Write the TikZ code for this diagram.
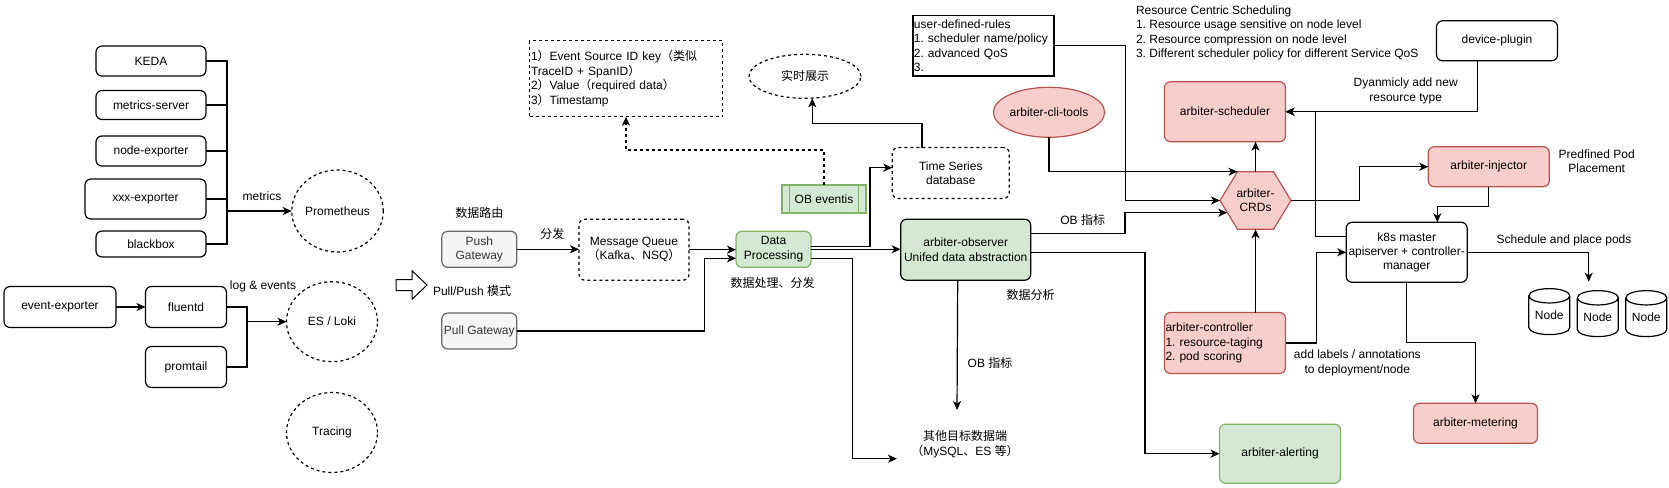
\documentclass[tikz,border=0pt]{standalone}
\usepackage{fontspec}
\setmainfont{Liberation Sans}
\newfontfamily\cjk{Noto Sans CJK SC}
\usepackage{tikz}
\usetikzlibrary{calc,arrows.meta,shapes.geometric}
\frenchspacing

\definecolor{greenfill}{HTML}{D5E8D4}
\definecolor{greenline}{HTML}{82B366}
\definecolor{redfill}{HTML}{F8CECC}
\definecolor{redline}{HTML}{B85450}
\definecolor{grayfill}{HTML}{F5F5F5}
\definecolor{grayline}{HTML}{666666}
\definecolor{graytext}{HTML}{333333}

\begin{document}
\begin{tikzpicture}[x=1pt, y=-1pt, inner sep=0pt, outer sep=0pt, line width=1.2pt,
    every node/.style={font=\fontsize{12}{14.4}\selectfont, align=center},
    box/.style={draw, rounded corners=6pt},
    graybox/.style={box, fill=grayfill, draw=grayline, text=graytext},
    greenbox/.style={box, fill=greenfill, draw=greenline},
    redbox/.style={box, fill=redfill, draw=redline},
    dotline/.style={dash pattern=on 3pt off 3pt},
    circ/.style={ellipse, draw, dotline},
    arr/.style={-{Stealth[length=9pt,width=8pt,inset=2.5pt]}}]
    \useasboundingbox (0,0) rectangle (1669,487);

    % metrics sources
    \node[box, minimum width=110pt, minimum height=30pt] (keda) at (151,61) {KEDA};
    \node[box, minimum width=110pt, minimum height=29pt] (metrics_srv) at (151,105) {metrics-server};
    \node[box, minimum width=110pt, minimum height=30pt] (node_exp) at (151,151) {node-exporter};
    \node[box, minimum width=121pt, minimum height=40pt] (xxx_exp) at (145.5,199) {xxx-exporter};
    \node[box, minimum width=110pt, minimum height=26pt] (blackbox) at (151,244) {blackbox};
    \node[circ, minimum width=82pt, minimum height=82pt] (prometheus) at (337.5,211) {Prometheus};
    \coordinate (metrics_bus) at (227,211);
    \foreach \src in {keda, metrics_srv, node_exp, xxx_exp, blackbox}
        \draw (\src.east) -| (metrics_bus);
    \draw[arr] (metrics_bus) -- (prometheus.west);
    \node (metrics_cap) at (262,196) {metrics};

    % logs
    \node[box, minimum width=112pt, minimum height=41pt] (event_exp) at (60,307) {event-exporter};
    \node[box, minimum width=81pt, minimum height=41pt] (fluentd) at (186,307) {fluentd};
    \node[box, minimum width=81pt, minimum height=41pt] (promtail) at (186,367) {promtail};
    \node[circ, minimum width=91pt, minimum height=80pt] (es_loki) at (332,321.7) {ES / Loki};
    \node[circ, minimum width=91pt, minimum height=80pt] (tracing) at (332,432.5) {Tracing};
    \coordinate (log_bus) at (247,321.7);
    \draw[arr] (event_exp) -- (fluentd);
    \foreach \src in {fluentd, promtail}
        \draw (\src.east) -| (log_bus);
    \draw[arr] (log_bus) -- (es_loki.west);
    \node (log_cap) at (263,286) {log \& events};

    % pull/push
    \draw[line width=1pt] (396,279.5) -- (412,279.5) -- (412,270.7) -- (427,285)
        -- (412,299.3) -- (412,290.5) -- (396,290.5) -- cycle;
    \node[anchor=west] (mode_cap) at (433,290.7) {Pull/Push {\cjk 模式}};
    \node (route_cap) at (479.3,213.3) {\cjk 数据路由};
    \node[graybox, minimum width=75pt, minimum height=36pt] (push_gw) at (479.3,249.3) {Push\\Gateway};
    \node[graybox, minimum width=75pt, minimum height=36pt] (pull_gw) at (479.3,331) {Pull Gateway};
    \node (dist_cap) at (552.3,234) {\cjk 分发};
    \node[box, dotline, minimum width=110pt, minimum height=61pt] (mq) at (634,249.7)
        {Message Queue\\{\cjk （}Kafka{\cjk 、}NSQ{\cjk ）}};
    \node[greenbox, minimum width=75pt, minimum height=36pt] (data_proc) at (773.5,249.3) {Data\\Processing};
    \node (proc_cap) at (772.7,283.3) {\cjk 数据处理、分发};

    % events
    \node[draw=greenline, fill=greenfill, minimum width=84pt, minimum height=28pt] (ob_eventis) at (824,199) {OB eventis};
    \draw[greenline] ($(ob_eventis.north west)+(7.5,0)$) -- ($(ob_eventis.south west)+(7.5,0)$);
    \draw[greenline] ($(ob_eventis.north east)+(-7.5,0)$) -- ($(ob_eventis.south east)+(-7.5,0)$);
    \node[draw, dotline, minimum width=193pt, minimum height=76pt, text width=190pt, align=left] (info) at (626,78.7)
        {1{\cjk ）}Event Source ID key{\cjk （类似}\\TraceID + SpanID{\cjk ）}\\2{\cjk ）}Value{\cjk （}required data{\cjk ）}\\3{\cjk ）}Timestamp};
    \node[circ, minimum width=112pt, minimum height=44pt] (realtime) at (805,76.3) {\cjk 实时展示};
    \node[box, dotline, minimum width=117pt, minimum height=51pt] (ts_db) at (950.8,173) {Time Series\\database};

    % observer
    \node[box, fill=greenfill, minimum width=130pt, minimum height=61pt] (observer) at (965.7,249.7)
        {arbiter-observer\\Unifed data abstraction};
    \node (analysis_cap) at (1030.7,295) {\cjk 数据分析};
    \node[minimum width=136pt, minimum height=68pt] (other_sink) at (965,444)
        {{\cjk 其他目标数据端}\\{\cjk （}MySQL{\cjk 、}ES {\cjk 等）}};
    \node (ob_cap_low) at (990,362.7) {OB {\cjk 指标}};
    \node (ob_cap_up) at (1082.7,220) {OB {\cjk 指标}};
    \node[greenbox, minimum width=121pt, minimum height=59pt] (alerting) at (1280,453.7) {arbiter-alerting};

    % arbiter
    \node[draw, minimum width=141pt, minimum height=60pt, text width=139pt, align=left] (user_rules) at (983.4,45.9)
        {user-defined-rules\\1. scheduler name/policy\\2. advanced QoS\\3.};
    \node[anchor=west, align=left] (resource_cap) at (1136,32.7)
        {Resource Centric Scheduling\\1. Resource usage sensitive on node level\\2. Resource compression on node level\\3. Different scheduler policy for different Service QoS};
    \node[ellipse, draw=redline, fill=redfill, minimum width=92pt, minimum height=50pt] (cli_tools) at (1049,112.3) {arbiter-cli-tools};
    \node[redbox, minimum width=121pt, minimum height=60pt] (scheduler) at (1225,111.7) {arbiter-scheduler};
    \coordinate (crds_c) at (1255.5,200.5);
    \filldraw[fill=redfill, draw=redline] ($(crds_c)+(-35.5,0)$) -- ++(17.5,-28.8) -- ++(36,0)
        -- ++(17.5,28.8) -- ++(-17.5,28.8) -- ++(-36,0) -- cycle;
    \node[minimum width=71pt, minimum height=57.6pt] (crds) at (crds_c) {arbiter-\\CRDs};
    \node[redbox, minimum width=121pt, minimum height=61pt, text width=119pt, align=left] (controller) at (1225,343)
        {arbiter-controller\\1. resource-taging\\2. pod scoring};
    \node[redbox, minimum width=121pt, minimum height=40pt] (injector) at (1488.8,166.7) {arbiter-injector};
    \node[box, minimum width=121pt, minimum height=40pt] (device_plugin) at (1497,40.8) {device-plugin};
    \node[box, minimum width=121pt, minimum height=60pt] (k8s) at (1406.7,252.3) {k8s master\\apiserver + controller-\\manager};
    \node[redbox, minimum width=124pt, minimum height=40pt] (metering) at (1475.5,423.3) {arbiter-metering};
    \foreach \nx/\ny [count=\i] in {1549.3/315.5, 1597.8/317.5, 1646.3/317.5}
        \node[cylinder, draw, shape border rotate=90, aspect=0.5, minimum width=41pt, minimum height=46pt] (node_\i) at (\nx,\ny) {Node};
    \coordinate (nodes_top) at (1588.7,281.7);
    \node (dyn_cap) at (1405.7,90.8) {Dyanmicly add new\\resource type};
    \node (place_cap) at (1596.7,161.2) {Predfined Pod\\Placement};
    \node (sched_cap) at (1564,240.3) {Schedule and place pods};
    \node (label_cap) at (1357.3,362.8) {add labels / annotations\\to deployment/node};

    % data flow
    \draw[arr] (push_gw.east) -- (push_gw.east -| mq.west);
    \draw[arr] (mq.east) -- (mq.east -| data_proc.west);
    \draw[arr] (pull_gw.east) -- ++(188,0) |- ($(data_proc.west)+(0,9)$);
    \draw[arr] ($(data_proc.east)+(0,-2.6)$) -- ++(59,0) |- ($(ts_db.west)+(0,-5.3)$);
    \draw[arr] (data_proc.east) -- (data_proc.east -| observer.west);
    \draw[arr] ($(data_proc.east)+(0,9)$) -- ++(41.7,0) |- ($(other_sink.west)+(0,14.7)$);
    \draw[arr, dotline] (ob_eventis.north) -- ++(0,-35) -| (info.south);
    \draw[arr] ($(ts_db.north)+(-28.8,0)$) -- ++(0,-24.4) -| ($(realtime.south)+(7.3,0)$);
    \draw[arr] ($(observer.south)+(-8,0)$) -- ($(other_sink.north)+(-8,0)$);
    \draw[arr] ($(observer.east)+(0,-16.4)$) -- ++(94.3,0) |- ($(crds.west)+(7.2,12.2)$);
    \draw[arr] ($(observer.east)+(0,2.6)$) -- ++(114.3,0) |- (alerting.west);

    % control flow
    \draw[arr] (user_rules.east) -- ++(71.7,0) |- (crds.west);
    \draw[arr] (cli_tools.south) |- ($(crds.north west)+(17.5,0)$);
    \draw[arr] (crds.north) -- (crds.north |- scheduler.south);
    \draw[arr] (controller.north -| crds.south) -- (crds.south);
    \draw[arr] (controller.east) -- ++(30.7,0) |- (k8s.west);
    \draw[arr] ($(k8s.west)+(0,-15.6)$) -- ++(-30.7,0) |- (scheduler.east);
    \draw[arr] ($(device_plugin.south)+(-19.3,0)$) |- (scheduler.east);
    \draw[arr] (crds.east) -- ++(68.3,0) |- (injector.west);
    \draw[arr] (injector.south) -- ++(0,20) -| ($(k8s.north)+(30.6,0)$);
    \draw[arr] (k8s.east) -| (nodes_top);
    \draw[arr] (k8s.south) -- ++(0,60.4) -| (metering.north);
\end{tikzpicture}
\end{document}
